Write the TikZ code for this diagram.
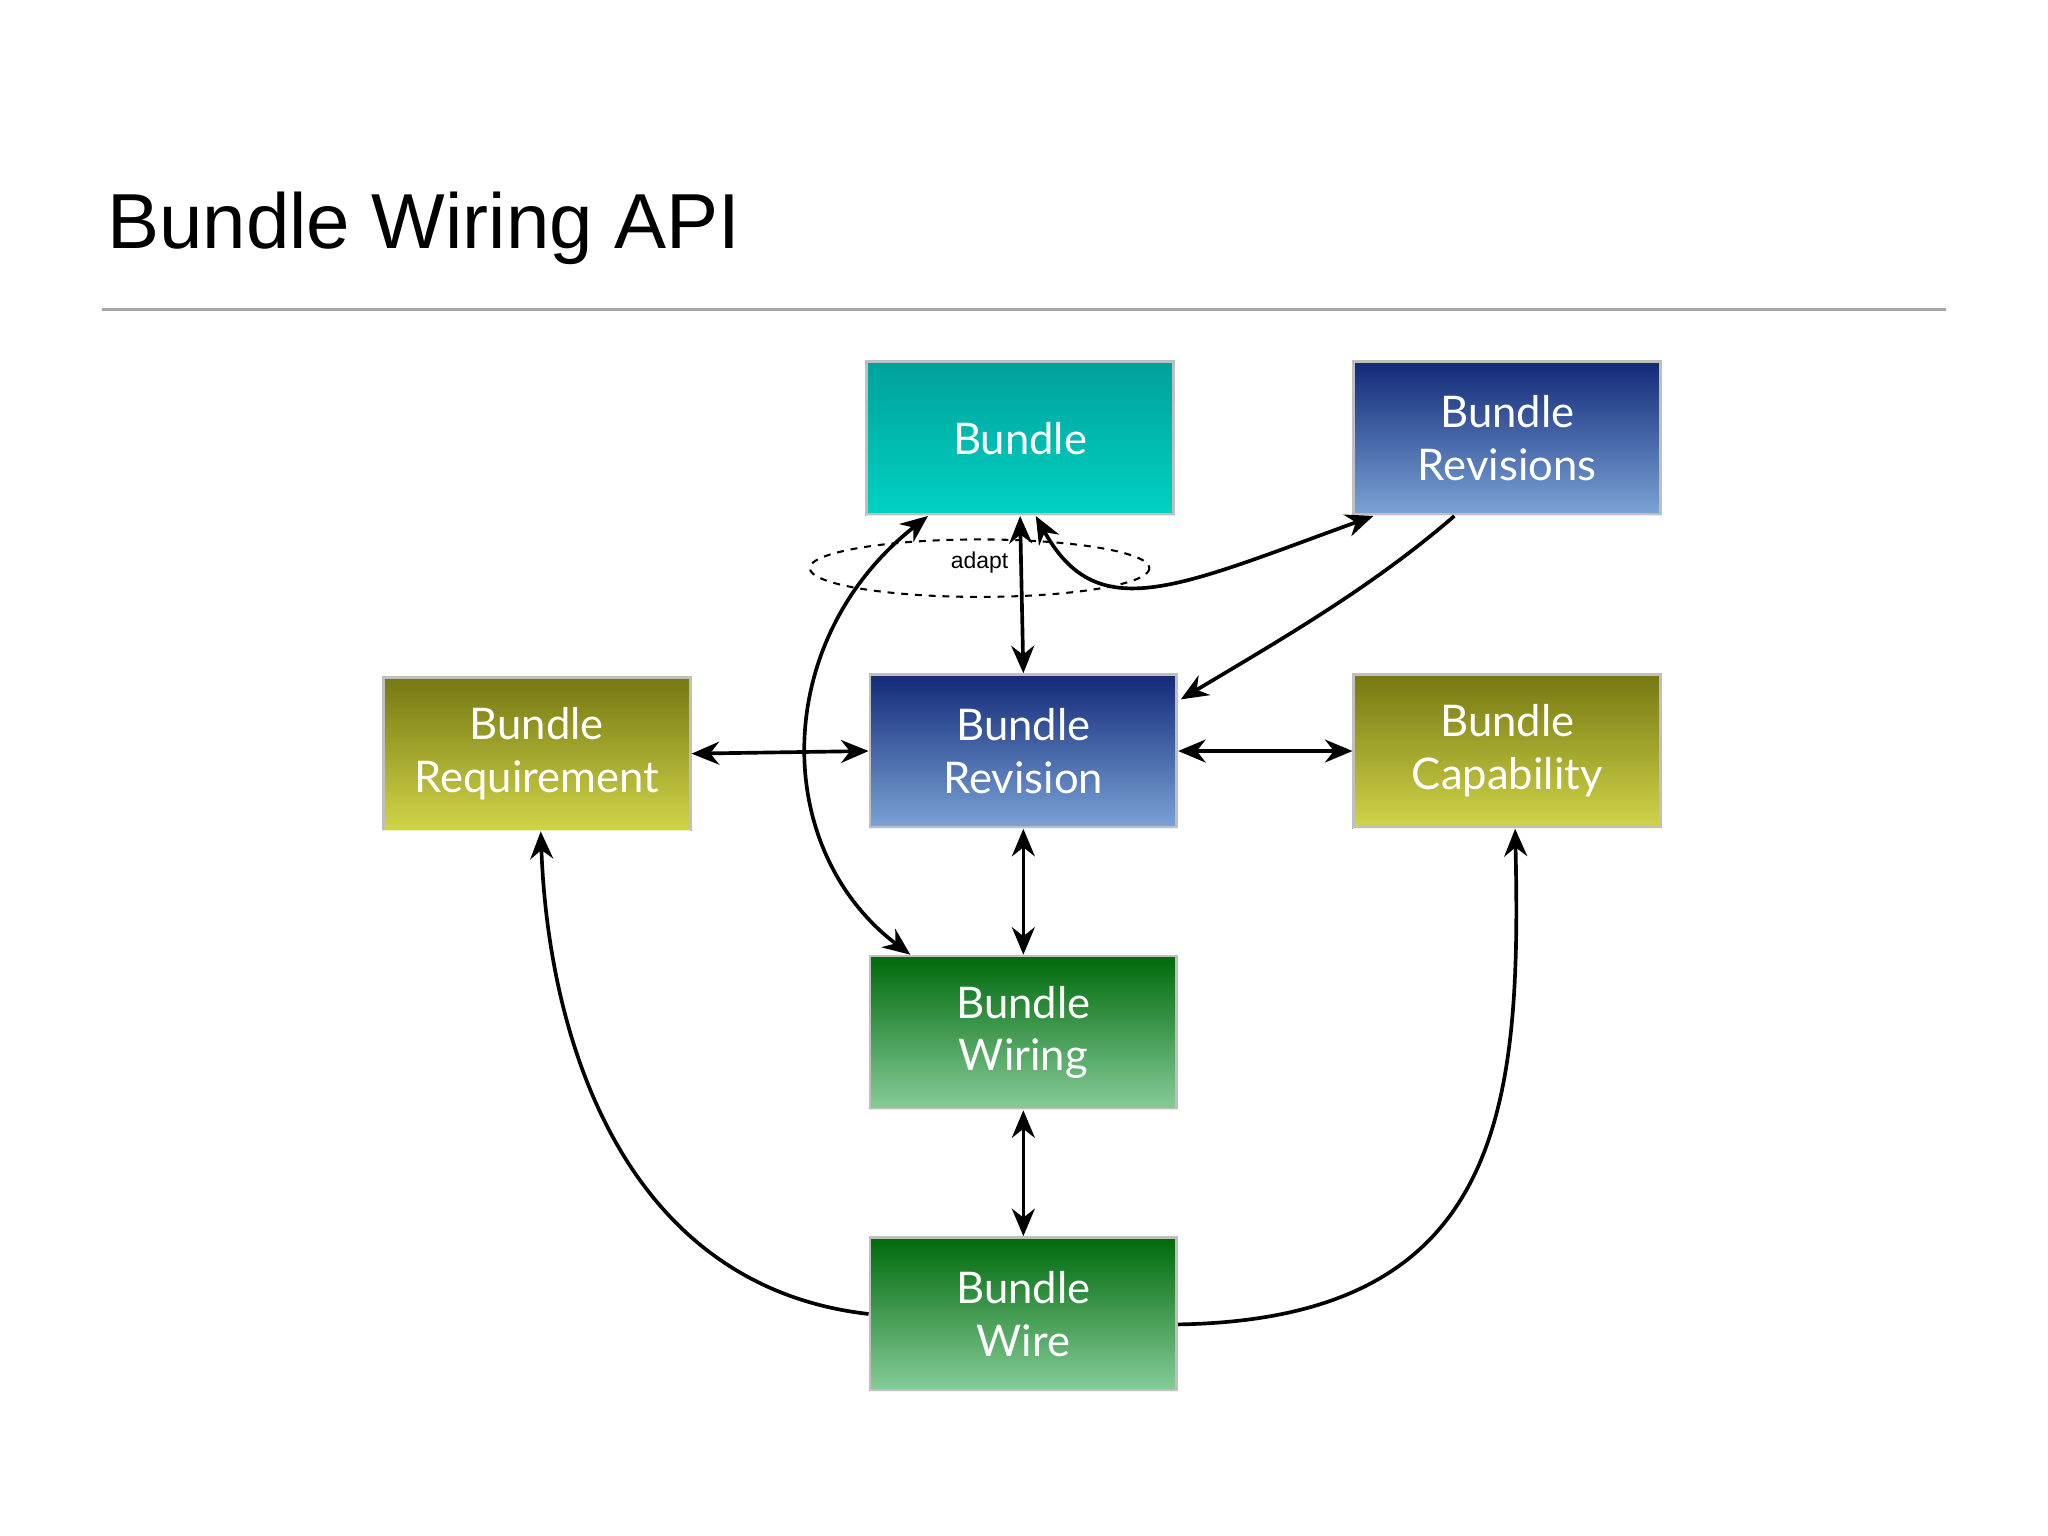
\documentclass[tikz,border=0pt]{standalone}
\usepackage{fontspec}
\setmainfont{Lato}
\newfontfamily\titlefont{Liberation Sans}
\usetikzlibrary{calc,arrows.meta}
\definecolor{tealT}{HTML}{00A19B}\definecolor{tealB}{HTML}{00D2C2}
\definecolor{blueT}{HTML}{132A78}\definecolor{blueB}{HTML}{7AA3D6}
\definecolor{oliveT}{HTML}{767812}\definecolor{oliveB}{HTML}{D0D448}
\definecolor{greenT}{HTML}{006A0C}\definecolor{greenB}{HTML}{86CC98}
\tikzset{
 box/.style={draw=gray!50,line width=1.2pt,minimum width=4.7cm,minimum height=2.34cm,
   align=center,text=white,font=\fontsize{19}{23}\selectfont,inner sep=0pt},
 teal/.style={box,top color=tealT,bottom color=tealB},
 blue/.style={box,top color=blueT,bottom color=blueB},
 olive/.style={box,top color=oliveT,bottom color=oliveB},
 green/.style={box,top color=greenT,bottom color=greenB},
 con/.style={line width=1.6pt,-{Stealth[length=12pt,width=10pt]}},
 dcon/.style={line width=1.6pt,{Stealth[length=12pt,width=10pt]}-{Stealth[length=12pt,width=10pt]}},
}
\newcommand{\refl}[2]{\fill[top color=#2!25,bottom color=white] ($(#1.south west)+(0,-0.03)$) rectangle ($(#1.south east)+(0,-0.9)$);}
\begin{document}
\begin{tikzpicture}[x=0.02cm,y=-0.02cm]
\useasboundingbox[fill=white] (0,0) rectangle (1568,1176);
\node[anchor=base west,font=\titlefont\fontsize{34}{40}\selectfont] (title) at (76,190) {Bundle Wiring API};
\draw[gray!70,line width=1.2pt] (78,237) coordinate (l1) -- (1490,237) coordinate (l2);
\node[teal]  (bundle) at (781,335.5) {Bundle};
\node[blue]  (revs)   at (1154,335.5) {Bundle\\Revisions};
\node[olive] (req)    at (411,577) {Bundle\\Requirement};
\node[blue]  (rev)    at (783.5,575) {Bundle\\Revision};
\node[olive] (cap)    at (1154,575) {Bundle\\Capability};
\node[green] (wiring) at (783.5,790.5) {Bundle\\Wiring};
\node[green] (wire)   at (783.5,1006) {Bundle\\Wire};
\refl{bundle}{tealB}\refl{revs}{blueB}\refl{req}{oliveB}\refl{rev}{blueB}
\refl{cap}{oliveB}\refl{wiring}{greenB}\refl{wire}{greenB}
\draw[dashed,line width=0.9pt] (750,435) ellipse [x radius=130,y radius=22];
\node[font=\fontsize{10}{12}\selectfont\titlefont] (adapt) at (750,431) {adapt};
\draw[dcon] (bundle.south) -- (rev.north);
\draw[dcon] (rev.south) -- (wiring.north);
\draw[dcon] (wiring.south) -- (wire.north);
\draw[dcon] (req.east) -- (rev.west);
\draw[dcon] (rev.east) -- (cap.west);
\draw[dcon] ($(bundle.south west)+(48,0)$) .. controls (590,490) and (590,650) .. ($(wiring.north west)+(32,0)$);
\draw[dcon] ($(bundle.south)+(12,0)$) .. controls (840,480) and (900,450) .. ($(revs.south west)+(16,0)$);
\draw[con] ($(revs.south west)+(78,0)$) .. controls (1050,450) and (980,490) .. ($(rev.north east)+(2,20)$);
\draw[con] (wire.west) .. controls (480,985) and (420,800) .. ($(req.south)+(3,0)$);
\draw[con] ($(wire.east)+(0,8)$) .. controls (1150,1010) and (1165,850) .. ($(cap.south)+(6,0)$);
\end{tikzpicture}
\end{document}
